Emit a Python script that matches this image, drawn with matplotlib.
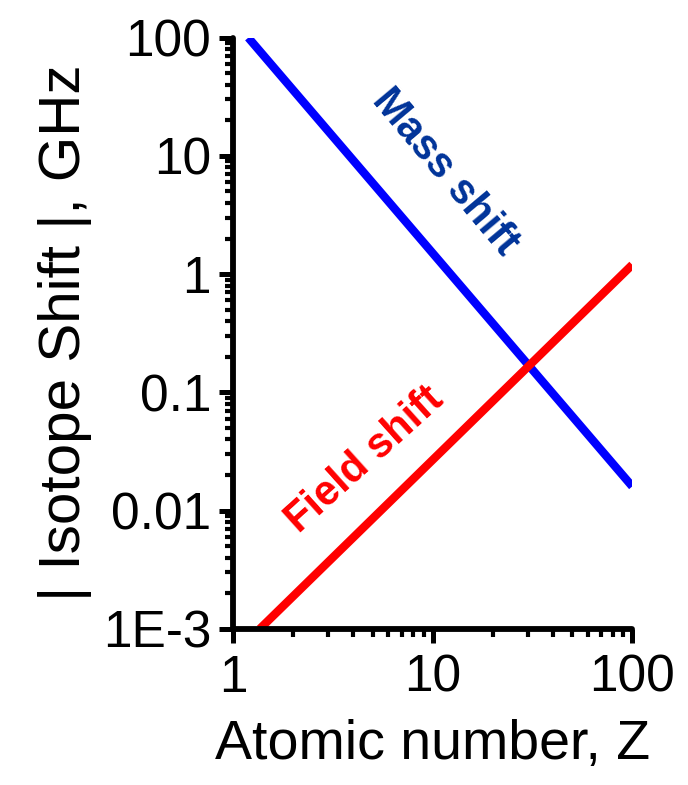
import matplotlib.pyplot as plt
from matplotlib.ticker import LogLocator, NullFormatter

plt.rcParams['font.family'] = ['Liberation Sans', 'DejaVu Sans']

# line end points
mass_z = [1.19, 100]
mass_shift = [100, 0.016]
field_z = [1.36, 100]
field_shift = [0.001, 1.2]

xticks = [1, 10, 100]
xticklabels = ['1', '10', '100']
yticks = [1e-3, 1e-2, 1e-1, 1, 10, 100]
yticklabels = ['1E-3', '0.01', '0.1', '1', '10', '100']

fig = plt.figure(figsize=(6.88, 7.85), dpi=100)
ax = fig.add_axes([0.339, 0.199, 0.580, 0.753])

ax.plot(mass_z, mass_shift, color='#0000ff', lw=6, solid_capstyle='butt')
ax.plot(field_z, field_shift, color='#ff0000', lw=6, solid_capstyle='butt')

ax.set_xscale('log')
ax.set_yscale('log')
ax.set_xlim(1, 100)
ax.set_ylim(1e-3, 100)

ax.set_xticks(xticks)
ax.set_xticklabels(xticklabels)
ax.set_yticks(yticks)
ax.set_yticklabels(yticklabels)
ax.xaxis.set_minor_locator(LogLocator(base=10, subs=range(2, 10)))
ax.yaxis.set_minor_locator(LogLocator(base=10, subs=range(2, 10)))
ax.xaxis.set_minor_formatter(NullFormatter())
ax.yaxis.set_minor_formatter(NullFormatter())

for side in ['top', 'right']:
    ax.spines[side].set_visible(False)
for side in ['left', 'bottom']:
    ax.spines[side].set_linewidth(4.2)
    ax.spines[side].set_capstyle('round')

ax.tick_params(which='major', direction='out', length=10, width=3.6, labelsize=37)
ax.tick_params(axis='y', which='major', pad=6)
ax.tick_params(axis='x', which='major', pad=8)
ax.tick_params(which='minor', direction='out', length=6, width=3)

ax.set_xlabel('Atomic number, Z', fontsize=40, labelpad=12)
ax.set_ylabel('| Isotope Shift |, GHz', fontsize=42, labelpad=8)

ax.text(0.531, 0.773, 'Mass shift', transform=ax.transAxes, rotation=-50,
        ha='center', va='center', fontsize=30, fontweight='bold', color='#003399',
        rotation_mode='anchor')
ax.text(0.331, 0.286, 'Field shift', transform=ax.transAxes, rotation=42,
        ha='center', va='center', fontsize=30, fontweight='bold', color='#ff0000',
        rotation_mode='anchor')

fig.savefig('out.png', dpi=100)
